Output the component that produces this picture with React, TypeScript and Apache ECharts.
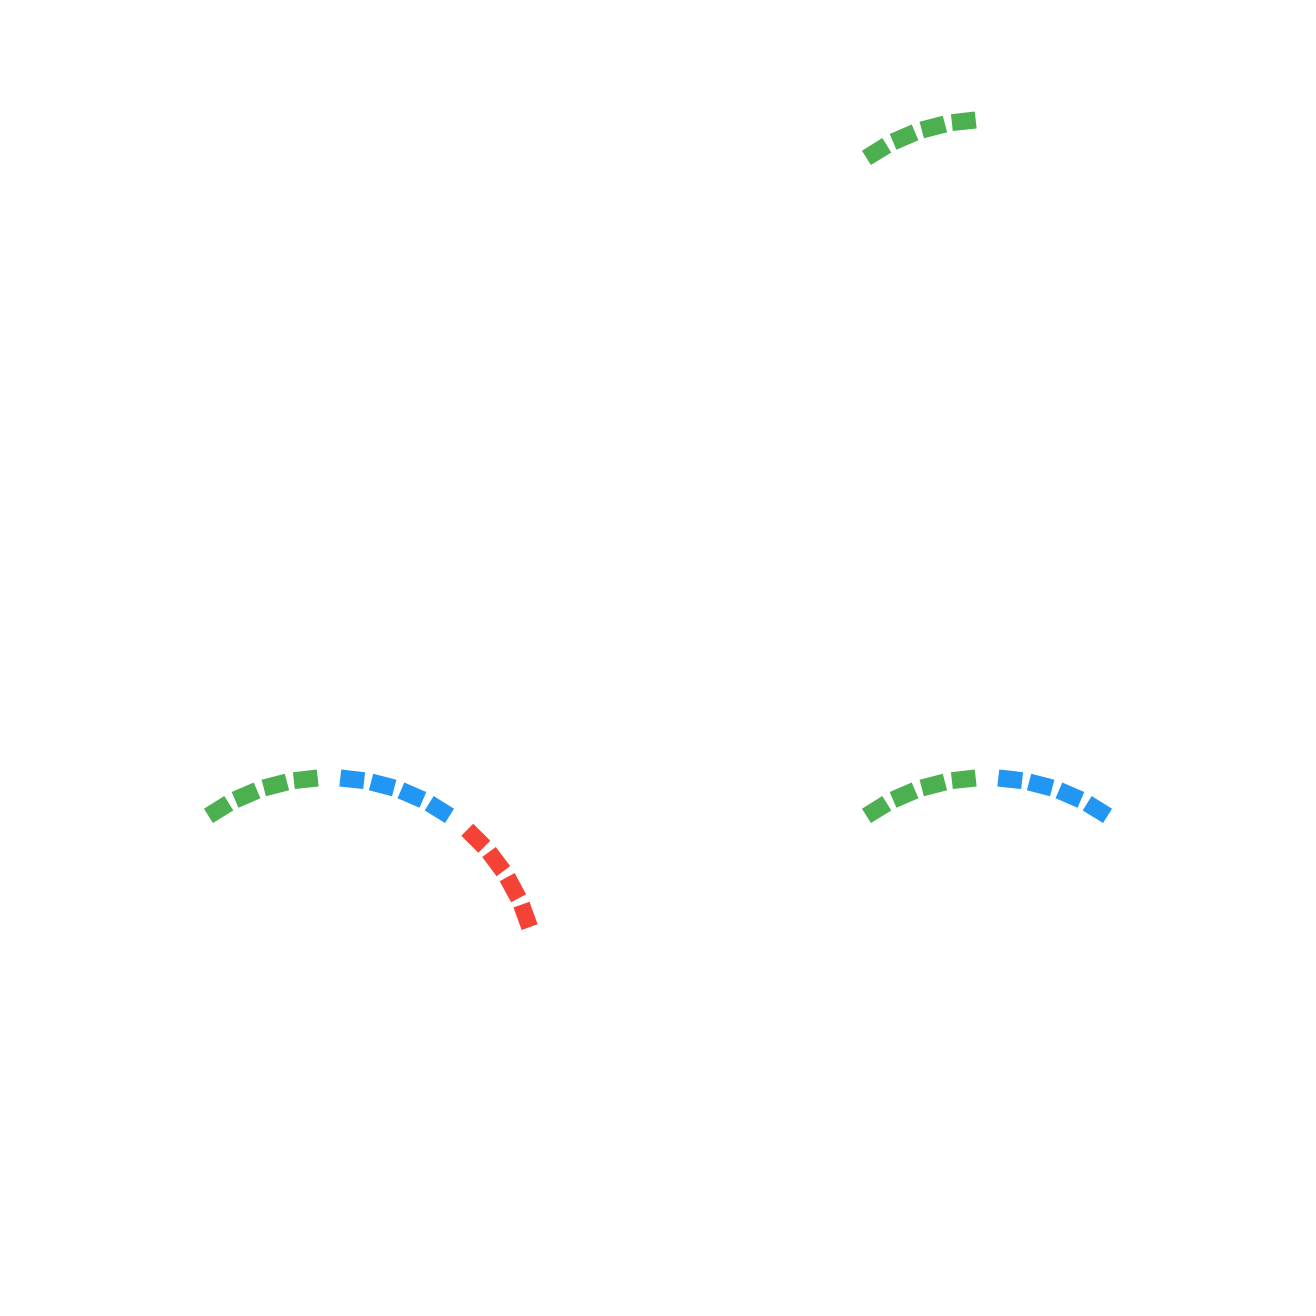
import React, { useEffect, useRef } from "react";
import * as echarts from "echarts";

// colours of the three bands, in order along the arc
const bandColors = ["#4CAF50", "#2196F3", "#F44336"];
// how many bands each gauge lights up: top-left, top-right, bottom-left, bottom-right
const levels = [0, 1, 3, 2];
const centers = [
  ["25%", "25%"],
  ["75%", "25%"],
  ["25%", "75%"],
  ["75%", "75%"],
];

const ticksPerBand = 4;
const tickStep = 8.5; // degrees between dashes
const bandStep = 38.25; // degrees between band starts
const firstAngle = 121.875;

const App = () => {
  const chartRef = useRef<HTMLDivElement>(null);

  useEffect(() => {
    document.body.style.margin = "0";
    const chart = echarts.init(chartRef.current as HTMLDivElement, null, {
      renderer: "svg",
    });

    const series: any[] = [];
    levels.forEach((level, g) => {
      for (let b = 0; b < level; b++) {
        const start = firstAngle - b * bandStep;
        series.push({
          type: "gauge",
          center: centers[g],
          radius: 217.5,
          startAngle: start,
          endAngle: start - tickStep * (ticksPerBand - 1),
          min: 0,
          max: 1,
          splitNumber: 1,
          axisLine: { show: false, lineStyle: { width: 0 } },
          splitLine: { show: false },
          axisTick: {
            show: true,
            splitNumber: ticksPerBand - 1,
            length: 17,
            distance: 0,
            lineStyle: { color: bandColors[b], width: 24, cap: "butt" },
          },
          axisLabel: { show: false },
          pointer: { show: false },
          anchor: { show: false },
          title: { show: false },
          detail: { show: false },
          data: [{ value: level }],
        });
      }
    });

    chart.setOption({
      animation: false,
      backgroundColor: "#ffffff",
      series,
    });

    return () => {
      chart.dispose();
    };
  }, []);

  return <div ref={chartRef} style={{ width: "1316px", height: "1316px" }} />;
};

export default App;
